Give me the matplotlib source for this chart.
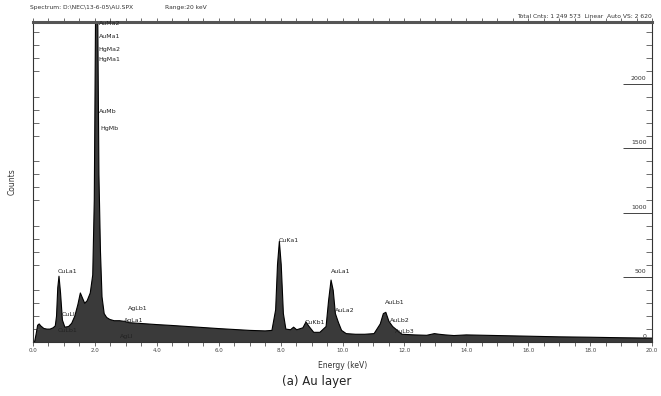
import matplotlib
matplotlib.use('Agg')
import matplotlib.pyplot as plt
import numpy as np

# spectrum (keV, counts)
energy = [0.00, 0.05, 0.10, 0.15, 0.20, 0.25, 0.35, 0.45, 0.55, 0.65, 0.72, 0.76, 0.80, 0.84, 0.89,
          0.95, 1.03, 1.15, 1.25, 1.35, 1.45, 1.53, 1.60, 1.67, 1.75, 1.85, 1.93, 1.98, 2.02, 2.05,
          2.09, 2.13, 2.18, 2.23, 2.30, 2.38, 2.48, 2.62, 2.80, 2.95, 3.10, 3.40, 3.70, 4.00, 4.50,
          5.00, 5.50, 6.00, 6.50, 7.00, 7.50, 7.72, 7.84, 7.90, 7.96, 8.02, 8.09, 8.17, 8.32, 8.42,
          8.52, 8.72, 8.82, 8.92, 9.07, 9.27, 9.47, 9.55, 9.63, 9.70, 9.77, 9.87, 9.97, 10.12, 10.42,
          10.72, 11.02, 11.22, 11.32, 11.40, 11.50, 11.62, 11.77, 11.92, 12.32, 12.72, 12.97, 13.12, 13.32,
          13.60, 14.00, 15.00, 16.00, 17.00, 18.00, 19.00, 20.00]
counts = [0, 0, 60, 130, 140, 125, 105, 100, 100, 110, 125, 200, 420, 510, 380,
          170, 115, 120, 145, 200, 290, 380, 340, 300, 320, 380, 520, 1100, 2500, 3200,
          2600, 1300, 700, 350, 220, 190, 175, 165, 165, 160, 150, 145, 140, 135, 128,
          120, 112, 104, 97, 90, 86, 90, 250, 600, 780, 600, 220, 100, 95, 115,
          95, 110, 155, 120, 75, 75, 120, 320, 480, 400, 220, 150, 90, 65, 60,
          60, 65, 140, 220, 230, 160, 120, 90, 60, 55, 52, 65, 60, 55,
          50, 55, 50, 45, 40, 37, 33, 30]

# peak labels: name, keV, counts
peak_names = ['AuMa2', 'AuMa1', 'HgMa2', 'HgMa1', 'AuMb', 'HgMb',
              'CuLa1', 'CuLl', 'CuLb1', 'AgLb1', 'AgLa1', 'AgLl',
              'CuKa1', 'CuKb1', 'AuLa1', 'AuLa2', 'AuLb1', 'AuLb2', 'AuLb3']
peak_x = [2.12, 2.12, 2.12, 2.12, 2.12, 2.18,
          0.78, 0.94, 0.78, 3.07, 2.94, 2.80,
          7.95, 8.79, 9.63, 9.76, 11.37, 11.53, 11.70]
peak_y = [2465, 2364, 2263, 2186, 1783, 1658,
          550, 217, 93, 263, 170, 39,
          783, 155, 543, 248, 310, 170, 85]

ytick_vals = [0, 500, 1000, 1500, 2000]
xtick_vals = [0, 2, 4, 6, 8, 10, 12, 14, 16, 18, 20]

fig = plt.figure(figsize=(6.61, 3.96), dpi=100)
ax = fig.add_axes([33/661, 1-342/396, (652-33)/661, (342-22)/396])

ax.fill_between(energy, counts, 0, color='#3a3a3a', lw=0)
ax.plot(energy, counts, color='black', lw=0.8)

ax.set_xlim(0, 20)
ax.set_ylim(0, 2480)

for name, px, py in zip(peak_names, peak_x, peak_y):
    ax.text(px, py, name, fontsize=4.5, color='#222222', ha='left', va='center', zorder=5)

# x axis
ax.set_xticks(xtick_vals)
ax.set_xticklabels(['%.1f' % v for v in xtick_vals], fontsize=4, color='#444444')
ax.set_xticks(np.arange(0, 20.01, 0.5), minor=True)
ax.tick_params(axis='x', which='both', direction='out', length=3, width=0.6,
               color='#555555', top=True, pad=1)
ax.set_xlabel('Energy (keV)', fontsize=5.5, color='#333333', labelpad=6)

# y axis: counts on the right, drawn inside
ax.set_yticks(ytick_vals)
ax.set_yticklabels([])
ax.set_yticks(np.arange(0, 2481, 100), minor=True)
ax.tick_params(axis='y', which='major', direction='in', length=21, width=0.7,
               left=False, right=True, color='#444444')
ax.tick_params(axis='y', which='minor', direction='in', length=4, width=0.6,
               left=True, right=True, color='#555555')
for v in ytick_vals:
    ax.text(19.82, v + 25, str(v), fontsize=4.5, color='#333333', ha='right', va='bottom')
ax.set_ylabel('Counts', fontsize=5.5, color='#333333', labelpad=8)

for side in ['left', 'right', 'bottom']:
    ax.spines[side].set_linewidth(0.8)
    ax.spines[side].set_color('#333333')
ax.spines['top'].set_linewidth(2.2)
ax.spines['top'].set_color('#555555')

# header and caption
fig.text(30/661, 1-8/396, 'Spectrum: D:\\NEC\\13-6-05\\AU.SPX', fontsize=4.3, color='#333333', va='center')
fig.text(165/661, 1-8/396, 'Range:20 keV', fontsize=4.3, color='#333333', va='center')
fig.text(652/661, 1-16/396, 'Total Cnts: 1 249 573  Linear  Auto VS: 2 620',
         fontsize=4.3, color='#333333', ha='right', va='center')
fig.text(317/661, 1-382/396, '(a) Au layer', fontsize=8.5, color='#222222', ha='center', va='center')

fig.savefig('out.png', dpi=100)
